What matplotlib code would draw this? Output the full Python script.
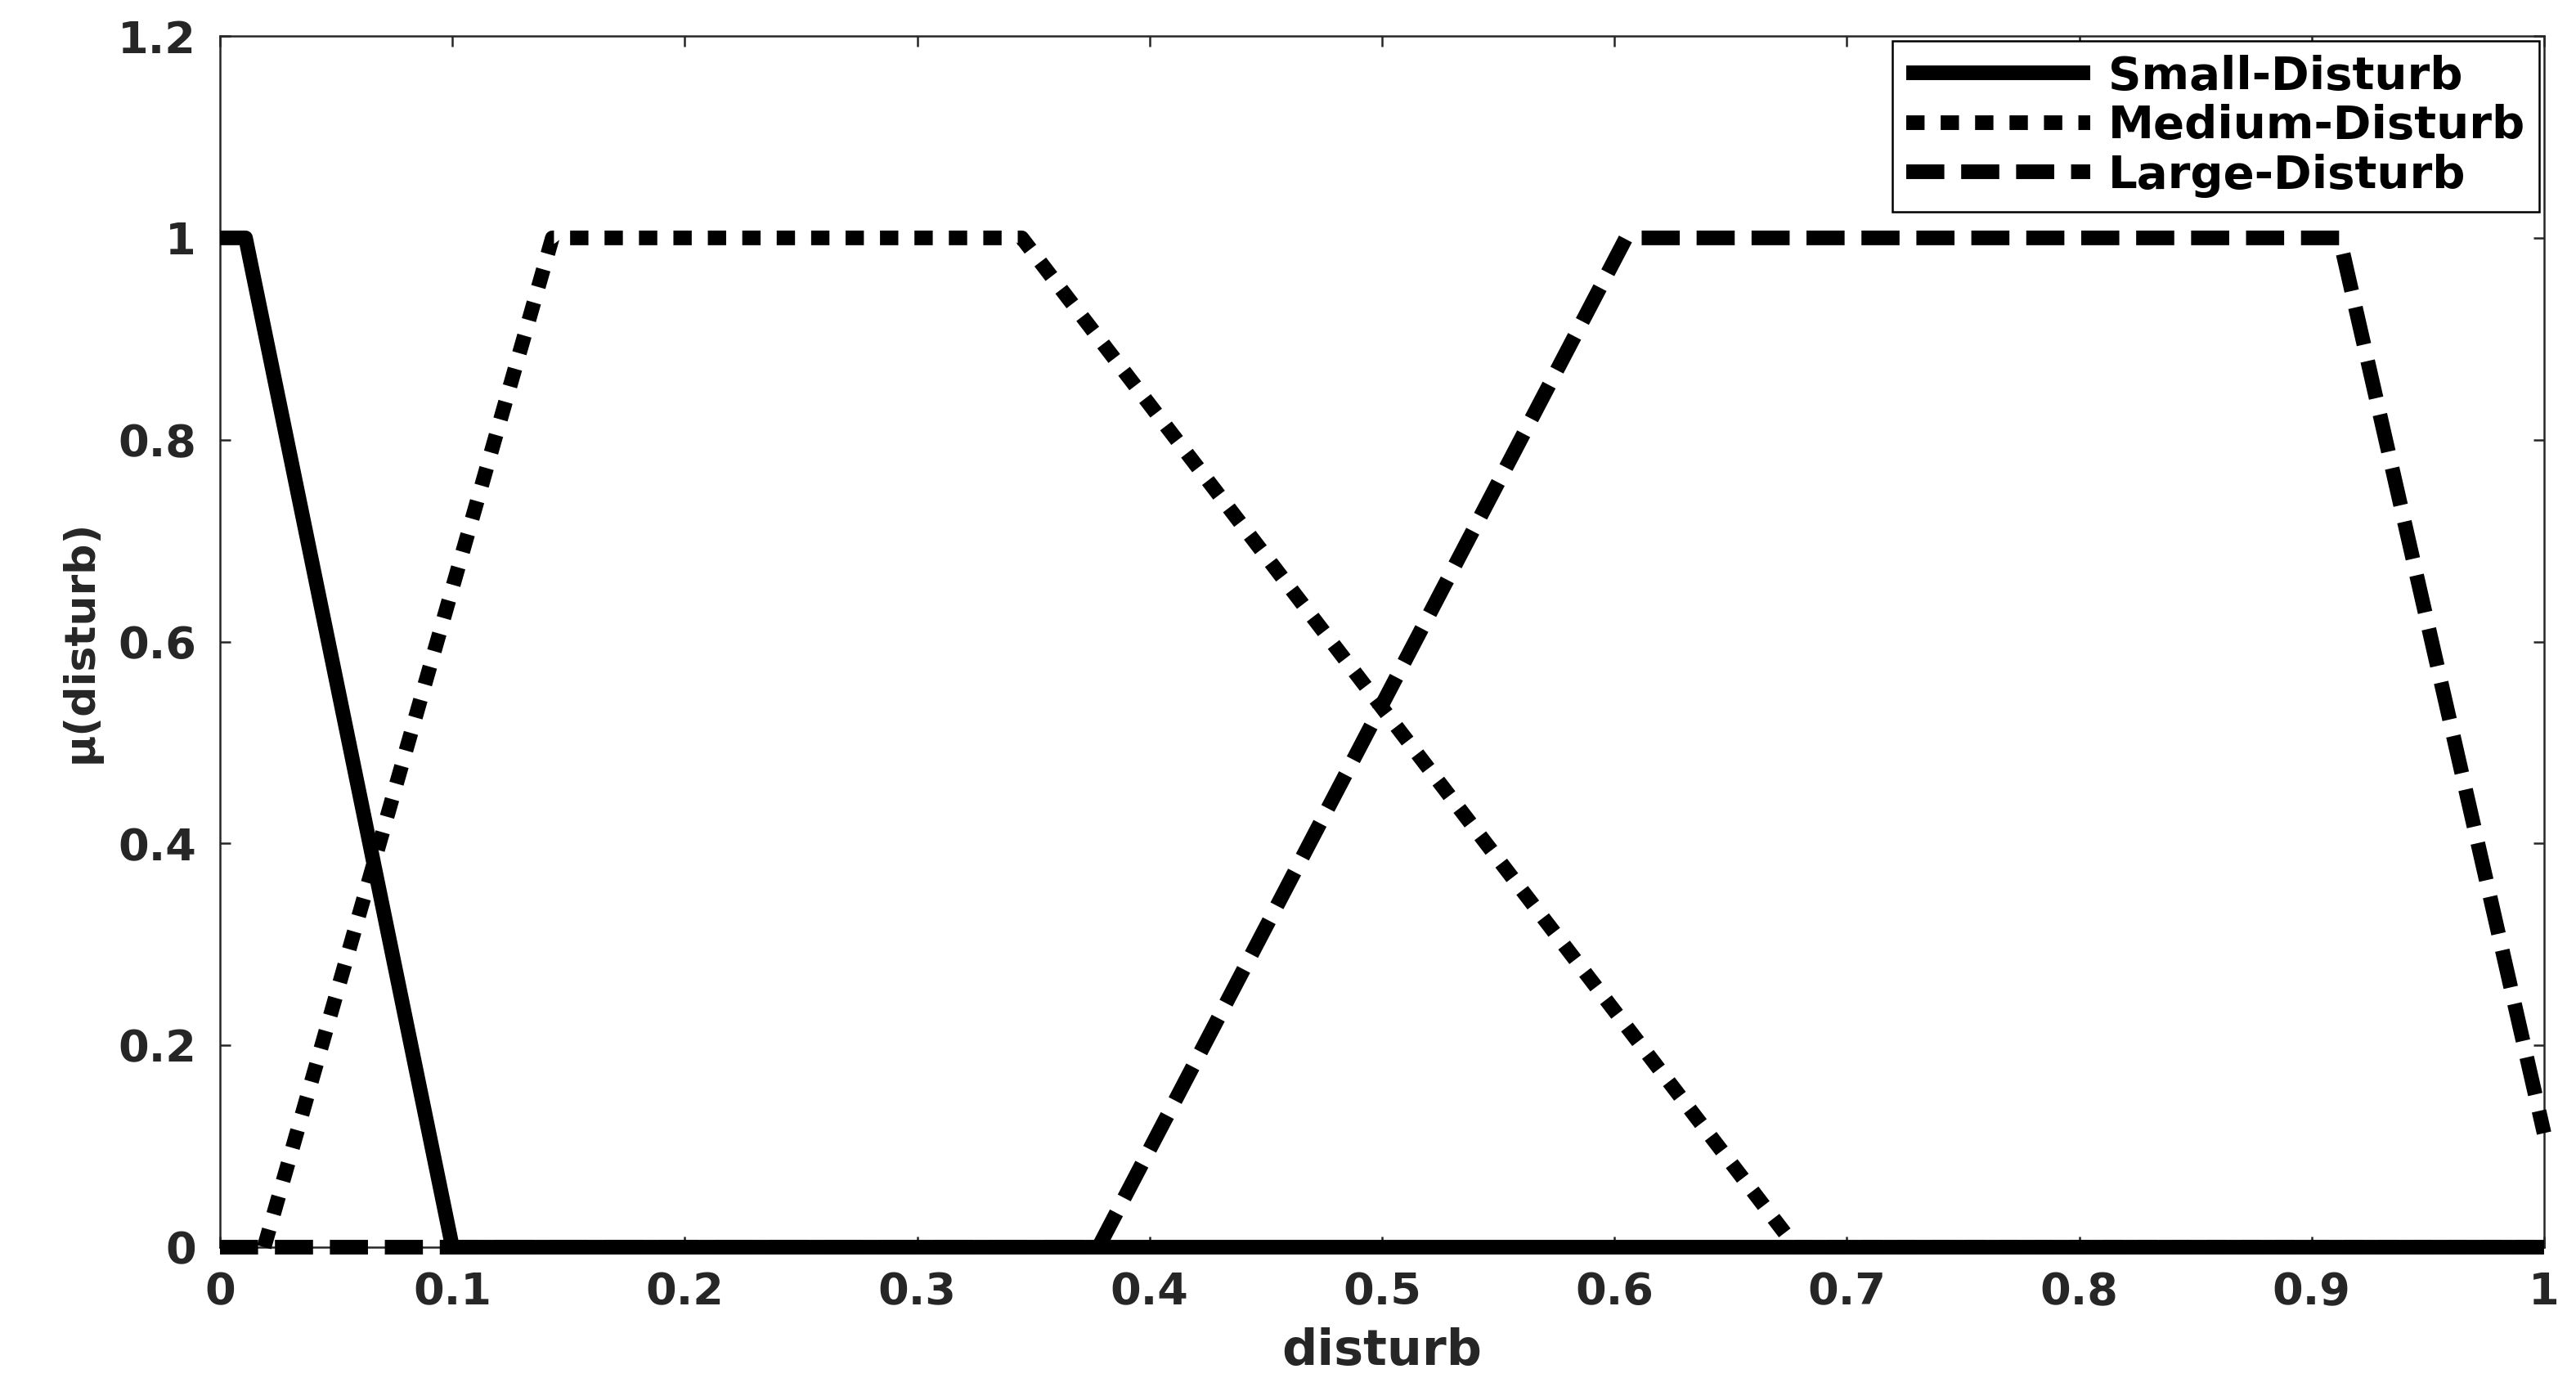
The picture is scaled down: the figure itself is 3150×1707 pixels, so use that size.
import numpy as np
import matplotlib
matplotlib.use("Agg")
import matplotlib.pyplot as plt
from matplotlib.ticker import FuncFormatter

# membership function break points
small_x = [0.0, 0.011, 0.100, 1.0]
small_y = [1.0, 1.0, 0.0, 0.0]

medium_x = [0.019, 0.143, 0.345, 0.678, 1.0]
medium_y = [0.0, 1.0, 1.0, 0.0, 0.0]

large_x = [0.0, 0.378, 0.605, 0.912, 1.0]
large_y = [0.0, 0.0, 1.0, 1.0, 0.113]

labels = ["Small-Disturb", "Medium-Disturb", "Large-Disturb"]
x_ticks = np.round(np.arange(0, 1.01, 0.1), 1)
y_ticks = np.round(np.arange(0, 1.21, 0.2), 1)

plt.rcParams["font.family"] = ["DejaVu Sans"]
plt.rcParams["font.weight"] = "bold"

fig = plt.figure(figsize=(10.5, 5.69), dpi=300)
ax = fig.add_axes([0.0854, 0.1066, 0.9876 - 0.0854, 0.9742 - 0.1066])

lw = 4.3
ax.plot(small_x, small_y, color="black", lw=lw, linestyle="-",
        solid_capstyle="butt", clip_on=False, label=labels[0], zorder=3)
ax.plot(medium_x, medium_y, color="black", lw=lw, linestyle=(0, (1.25, 1.1)),
        dash_capstyle="butt", clip_on=False, label=labels[1], zorder=3)
ax.plot(large_x, large_y, color="black", lw=lw, linestyle=(0, (2.6, 1.15)),
        dash_capstyle="butt", clip_on=False, label=labels[2], zorder=3)

ax.set_xlim(0, 1)
ax.set_ylim(0, 1.2)
ax.set_xticks(x_ticks)
ax.set_yticks(y_ticks)
fmt = FuncFormatter(lambda v, p: f"{v:g}")
ax.xaxis.set_major_formatter(fmt)
ax.yaxis.set_major_formatter(fmt)

axcol = "#262626"
for sp in ax.spines.values():
    sp.set_linewidth(0.6)
    sp.set_color(axcol)
ax.tick_params(direction="in", length=3.1, width=0.6, color=axcol,
               top=True, right=True, labelsize=13, labelcolor=axcol)
ax.tick_params(axis="x", pad=7)
ax.tick_params(axis="y", pad=7)

ax.set_xlabel("disturb", fontsize=14.5, fontweight="bold", color=axcol, labelpad=4)
ax.set_ylabel("\u03bc(disturb)", fontsize=12.5, fontweight="bold", color=axcol, labelpad=5)

leg = ax.legend(loc="upper right", bbox_to_anchor=(1.0, 1.0), fontsize=13.5,
                handlelength=4.0, handletextpad=0.4, labelspacing=0.12,
                borderpad=0.3, borderaxespad=0.1, fancybox=False,
                framealpha=1, edgecolor="black")
leg.get_frame().set_linewidth(0.6)
for t in leg.get_texts():
    t.set_fontweight("bold")

fig.savefig("out.png", dpi=300)
